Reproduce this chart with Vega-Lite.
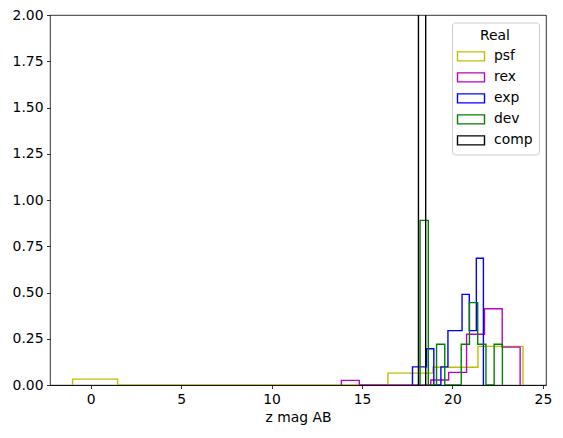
{
  "$schema": "https://vega.github.io/schema/vega-lite/v6.json",
  "width": 496,
  "height": 370,
  "autosize": {"type": "none"},
  "padding": {"left": 50, "top": 15, "right": 17, "bottom": 53},
  "config": {
    "font": "DejaVu Sans",
    "view": {"stroke": "black", "strokeWidth": 0.8},
    "axis": {
      "grid": false,
      "domain": false,
      "labelFont": "DejaVu Sans",
      "labelFontSize": 13.9,
      "labelColor": "black",
      "tickColor": "black",
      "tickSize": 3.5,
      "tickWidth": 0.8,
      "labelPadding": 3.5,
      "titleFont": "DejaVu Sans",
      "titleFontSize": 13.9,
      "titleFontWeight": "normal",
      "titleColor": "black"
    }
  },
  "data": {
    "values": [
      {"type": "psf", "step": 0, "mag": -1.0, "density": 0},
      {"type": "psf", "step": 1, "mag": -1.0, "density": 0.032},
      {"type": "psf", "step": 2, "mag": 1.49, "density": 0},
      {"type": "psf", "step": 3, "mag": 3.98, "density": 0},
      {"type": "psf", "step": 4, "mag": 6.47, "density": 0},
      {"type": "psf", "step": 5, "mag": 8.96, "density": 0},
      {"type": "psf", "step": 6, "mag": 11.45, "density": 0},
      {"type": "psf", "step": 7, "mag": 13.94, "density": 0},
      {"type": "psf", "step": 8, "mag": 16.43, "density": 0.064},
      {"type": "psf", "step": 9, "mag": 18.92, "density": 0.096},
      {"type": "psf", "step": 10, "mag": 21.41, "density": 0.209},
      {"type": "psf", "step": 11, "mag": 23.9, "density": 0},
      {"type": "rex", "step": 0, "mag": 13.86, "density": 0},
      {"type": "rex", "step": 1, "mag": 13.86, "density": 0.025},
      {"type": "rex", "step": 2, "mag": 14.85, "density": 0},
      {"type": "rex", "step": 3, "mag": 15.84, "density": 0},
      {"type": "rex", "step": 4, "mag": 16.82, "density": 0},
      {"type": "rex", "step": 5, "mag": 17.81, "density": 0},
      {"type": "rex", "step": 6, "mag": 18.8, "density": 0.027},
      {"type": "rex", "step": 7, "mag": 19.79, "density": 0.068},
      {"type": "rex", "step": 8, "mag": 20.78, "density": 0.274},
      {"type": "rex", "step": 9, "mag": 21.77, "density": 0.412},
      {"type": "rex", "step": 10, "mag": 22.75, "density": 0.205},
      {"type": "rex", "step": 11, "mag": 23.74, "density": 0},
      {"type": "exp", "step": 0, "mag": 17.79, "density": 0},
      {"type": "exp", "step": 1, "mag": 17.79, "density": 0.098},
      {"type": "exp", "step": 2, "mag": 18.18, "density": 0.098},
      {"type": "exp", "step": 3, "mag": 18.57, "density": 0.196},
      {"type": "exp", "step": 4, "mag": 18.97, "density": 0},
      {"type": "exp", "step": 5, "mag": 19.36, "density": 0.098},
      {"type": "exp", "step": 6, "mag": 19.75, "density": 0.294},
      {"type": "exp", "step": 7, "mag": 20.14, "density": 0.294},
      {"type": "exp", "step": 8, "mag": 20.53, "density": 0.49},
      {"type": "exp", "step": 9, "mag": 20.93, "density": 0.294},
      {"type": "exp", "step": 10, "mag": 21.32, "density": 0.685},
      {"type": "exp", "step": 11, "mag": 21.71, "density": 0},
      {"type": "dev", "step": 0, "mag": 18.21, "density": 0},
      {"type": "dev", "step": 1, "mag": 18.21, "density": 0.89},
      {"type": "dev", "step": 2, "mag": 18.665, "density": 0},
      {"type": "dev", "step": 3, "mag": 19.12, "density": 0.22},
      {"type": "dev", "step": 4, "mag": 19.575, "density": 0},
      {"type": "dev", "step": 5, "mag": 20.03, "density": 0},
      {"type": "dev", "step": 6, "mag": 20.485, "density": 0.22},
      {"type": "dev", "step": 7, "mag": 20.94, "density": 0.445},
      {"type": "dev", "step": 8, "mag": 21.395, "density": 0.22},
      {"type": "dev", "step": 9, "mag": 21.85, "density": 0},
      {"type": "dev", "step": 10, "mag": 22.305, "density": 0.22},
      {"type": "dev", "step": 11, "mag": 22.76, "density": 0},
      {"type": "comp", "step": 0, "mag": 18.12, "density": 0},
      {"type": "comp", "step": 1, "mag": 18.12, "density": 2.6},
      {"type": "comp", "step": 2, "mag": 18.52, "density": 0}
    ]
  },
  "mark": {"type": "line", "interpolate": "step-after", "strokeWidth": 1.39, "clip": true},
  "encoding": {
    "x": {
      "field": "mag",
      "type": "quantitative",
      "title": "z mag AB",
      "scale": {"domain": [-2.246, 25.17], "nice": false, "zero": false},
      "axis": {"values": [0, 5, 10, 15, 20, 25], "titlePadding": 5, "domain": true, "domainColor": "black", "domainWidth": 0.8, "zindex": 1}
    },
    "y": {
      "field": "density",
      "type": "quantitative",
      "title": null,
      "scale": {"domain": [0, 2], "nice": false},
      "axis": {"values": [0, 0.25, 0.5, 0.75, 1.0, 1.25, 1.5, 1.75, 2.0], "format": ".2f"}
    },
    "color": {
      "field": "type",
      "type": "nominal",
      "scale": {"domain": ["psf", "rex", "exp", "dev", "comp"], "range": ["#bfbf00", "#bf00bf", "#0000ff", "#008000", "#000000"]},
      "legend": {
        "title": "Real",
        "orient": "none",
        "legendX": 402,
        "legendY": 7.5,
        "titleFont": "DejaVu Sans",
        "titleFontSize": 13.9,
        "titleFontWeight": "normal",
        "titleColor": "black",
        "titleAnchor": "middle",
        "titleAlign": "center",
        "titlePadding": 4,
        "labelFont": "DejaVu Sans",
        "labelFontSize": 13.9,
        "labelColor": "black",
        "labelOffset": 13,
        "symbolType": "M-1.5,-0.5H1.5V0.5H-1.5Z",
        "symbolSize": 324,
        "symbolStrokeWidth": 1.39,
        "symbolOffset": 3,
        "symbolFillColor": "white",
        "rowPadding": 3,
        "padding": 6,
        "fillColor": "rgba(255,255,255,0.8)",
        "strokeColor": "#cccccc",
        "cornerRadius": 3
      }
    },
    "order": {"field": "step", "type": "quantitative"}
  }
}
